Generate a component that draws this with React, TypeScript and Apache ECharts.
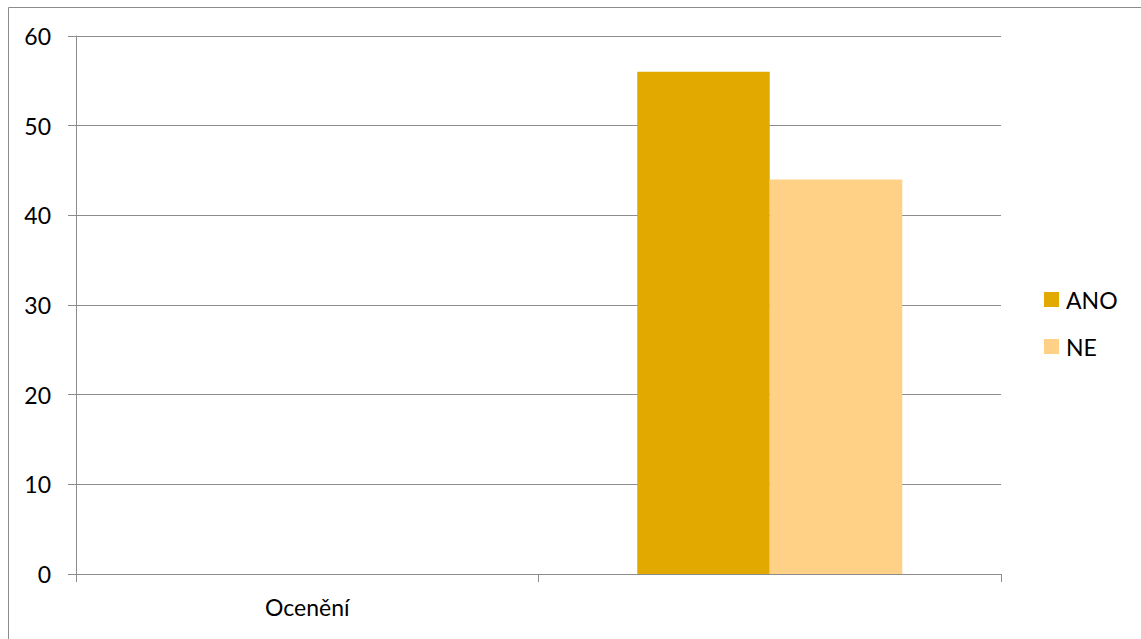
import React, { useEffect, useRef } from "react";
import * as echarts from "echarts";

const categories = ["Ocenění", ""];
const seriesNames = ["ANO", "NE"];
const anoValues = [null, 56];
const neValues = [null, 44];
const yTicks = { min: 0, max: 60, interval: 10 };
const colors = ["#E2AA00", "#FFD187"];

const FONT = "Lato";

export default function App() {
  const ref = useRef<HTMLDivElement>(null);
  useEffect(() => {
    if (!ref.current) return;
    const chart = echarts.init(ref.current, undefined, { renderer: "svg" });
    chart.setOption({
      animation: false,
      backgroundColor: "#ffffff",
      textStyle: { fontFamily: FONT },
      graphic: [
        {
          type: "rect",
          silent: true,
          shape: { x: 8.5, y: 7.5, width: 2000, height: 2000 },
          style: { fill: "none", stroke: "#8C8C8C", lineWidth: 1 },
        },
      ],
      grid: { left: 76, right: 140, top: 36, bottom: 65, containLabel: false },
      legend: {
        orient: "vertical",
        left: 1044,
        top: 288,
        itemWidth: 15,
        itemHeight: 15,
        itemGap: 24,
        icon: "rect",
        padding: 0,
        data: seriesNames,
        textStyle: { fontFamily: FONT, fontSize: 23, color: "#000", padding: [0, 0, 0, 2] },
      },
      xAxis: {
        type: "category",
        data: categories,
        axisLine: { show: true, lineStyle: { color: "#8C8C8C", width: 1 } },
        axisTick: { show: true, length: 8, lineStyle: { color: "#8C8C8C" } },
        axisLabel: { fontFamily: FONT, fontSize: 23, color: "#000", margin: 21 },
        splitLine: { show: false },
      },
      yAxis: {
        type: "value",
        min: yTicks.min,
        max: yTicks.max,
        interval: yTicks.interval,
        axisLine: { show: true, lineStyle: { color: "#8C8C8C", width: 1 } },
        axisTick: { show: true, length: 8, lineStyle: { color: "#8C8C8C" } },
        axisLabel: { fontFamily: FONT, fontSize: 23, color: "#000", margin: 25 },
        splitLine: { show: true, lineStyle: { color: "#8C8C8C", width: 1 } },
      },
      series: [
        {
          name: seriesNames[0],
          type: "bar",
          data: anoValues,
          itemStyle: { color: colors[0] },
          barGap: "0%",
          barCategoryGap: "42.7%",
        },
        {
          name: seriesNames[1],
          type: "bar",
          data: neValues,
          itemStyle: { color: colors[1] },
          barGap: "0%",
          barCategoryGap: "42.7%",
        },
      ],
    });
    return () => chart.dispose();
  }, []);
  return (
    <div
      ref={ref}
      style={{ position: "fixed", left: 0, top: 0, width: 1141, height: 639 }}
    />
  );
}
